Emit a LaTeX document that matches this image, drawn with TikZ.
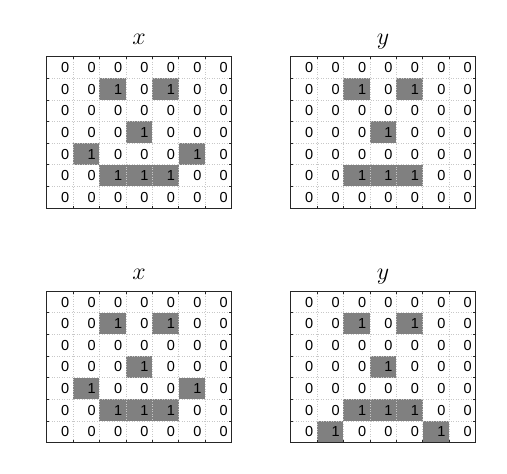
\RequirePackage{fix-cm}
\documentclass[tikz,border=0pt]{standalone}
\usepackage{fontspec}
\setsansfont{Liberation Sans}
\definecolor{graycell}{HTML}{808080}
\definecolor{gridgray}{HTML}{C8C8C8}
\definecolor{framegray}{HTML}{262626}
\tikzset{
  cellfill/.style={fill=graycell, draw=none},
  gridline/.style={draw=gridgray, dotted, line width=0.5pt},
  frameline/.style={draw=framegray, line width=0.7pt},
  tickline/.style={draw=framegray, line width=0.5pt},
  val/.style={font=\sffamily\fontsize{14.5}{14.5}\selectfont, anchor=base east, inner sep=0pt},
  ttl/.style={font=\fontsize{24}{28}\selectfont, anchor=base, inner sep=0pt}
}
\def\cw{26.4286}
\def\ch{21.643}
\def\PW{185}
\def\PH{151.5}
\newcommand\drawpanel[4]{%
  \begin{scope}[shift={(#2,#3)}]
    \foreach [count=\r from 0] \rd in {#4} {
      \foreach [count=\c from 0] \v in \rd {
        \ifnum\v=1 \fill[cellfill] ({\c*\cw},{\r*\ch}) rectangle ++(\cw,\ch);\fi
      }
    }
    \foreach \i in {1,...,6} {
      \draw[gridline] ({\i*\cw},0) -- ({\i*\cw},\PH);
      \draw[gridline] (0,{\i*\ch}) -- (\PW,{\i*\ch});
      \draw[tickline] ({\i*\cw},0) -- ++(0,2.5);
      \draw[tickline] ({\i*\cw},\PH) -- ++(0,-2.5);
      \draw[tickline] (0,{\i*\ch}) -- ++(2.5,0);
      \draw[tickline] (\PW,{\i*\ch}) -- ++(-2.5,0);
    }
    \foreach [count=\r from 0] \rd in {#4} {
      \foreach [count=\c from 0] \v in \rd {
        \node[val] (#1-\r-\c) at ({(\c+1)*\cw-3.5},{(\r+0.5)*\ch+5.2}) {\v};
      }
    }
    \draw[frameline] (0,0) rectangle (\PW,\PH);
  \end{scope}}
\begin{document}
\begin{tikzpicture}[x=1pt,y=-1pt]
\useasboundingbox (0,0) rectangle (507,474);
\node[ttl] (t1) at (139,44) {$x$};
\node[ttl] (t2) at (383,44) {$y$};
\node[ttl] (t3) at (139,279) {$x$};
\node[ttl] (t4) at (383,279) {$y$};
\drawpanel{a}{46.5}{56.5}{{0,0,0,0,0,0,0},{0,0,1,0,1,0,0},{0,0,0,0,0,0,0},{0,0,0,1,0,0,0},{0,1,0,0,0,1,0},{0,0,1,1,1,0,0},{0,0,0,0,0,0,0}}
\drawpanel{b}{290.5}{56.5}{{0,0,0,0,0,0,0},{0,0,1,0,1,0,0},{0,0,0,0,0,0,0},{0,0,0,1,0,0,0},{0,0,0,0,0,0,0},{0,0,1,1,1,0,0},{0,0,0,0,0,0,0}}
\drawpanel{c}{46.5}{291}{{0,0,0,0,0,0,0},{0,0,1,0,1,0,0},{0,0,0,0,0,0,0},{0,0,0,1,0,0,0},{0,1,0,0,0,1,0},{0,0,1,1,1,0,0},{0,0,0,0,0,0,0}}
\drawpanel{d}{290.5}{291}{{0,0,0,0,0,0,0},{0,0,1,0,1,0,0},{0,0,0,0,0,0,0},{0,0,0,1,0,0,0},{0,0,0,0,0,0,0},{0,0,1,1,1,0,0},{0,1,0,0,0,1,0}}
\end{tikzpicture}
\end{document}
